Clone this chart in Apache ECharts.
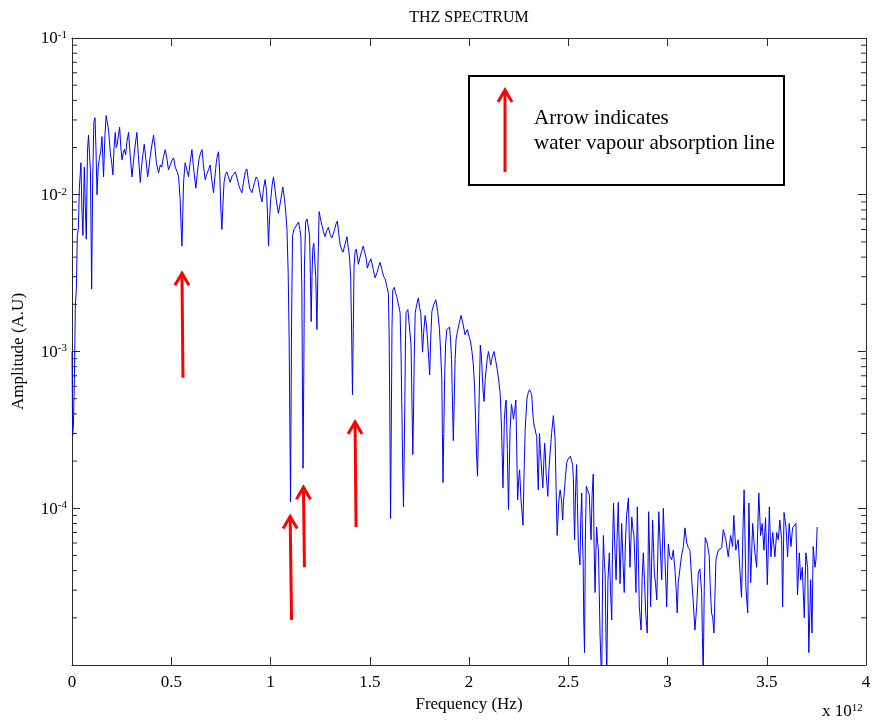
<!DOCTYPE html>
<html>
<head>
<meta charset="utf-8">
<script src="https://cdn.jsdelivr.net/npm/echarts@6/dist/echarts.min.js"></script>
<style>
  html, body { margin: 0; padding: 0; background: #ffffff; }
  #chart { width: 872px; height: 720px; }
</style>
</head>
<body>
<div id="chart"></div>
<script>
// Spectrum samples as [frequency (THz), amplitude (A.U)], split by frequency band.
const lowBand = [
  [0.000, 1.0e-3], [0.003, 2.9e-4], [0.007, 3.4e-4], [0.012, 6.6e-4], [0.017, 2.0e-3],
  [0.022, 2.5e-3], [0.027, 5.6e-3], [0.032, 6.0e-3], [0.037, 1.1e-2], [0.045, 1.6e-2],
  [0.050, 8.0e-3], [0.055, 5.5e-3], [0.062, 1.5e-2], [0.067, 8.5e-3], [0.072, 5.2e-3],
  [0.078, 1.9e-2], [0.083, 2.4e-2], [0.088, 2.45e-2], [0.093, 1.4e-2], [0.099, 2.5e-3],
  [0.104, 1.2e-2], [0.110, 2.9e-2], [0.116, 3.1e-2], [0.121, 1.9e-2], [0.126, 1.0e-2],
  [0.132, 1.5e-2], [0.138, 1.7e-2], [0.145, 1.9e-2], [0.151, 2.35e-2], [0.159, 1.3e-2],
  [0.166, 2.4e-2], [0.172, 3.2e-2], [0.178, 3.25e-2], [0.184, 2.6e-2], [0.193, 1.85e-2],
  [0.200, 1.6e-2], [0.206, 1.34e-2], [0.212, 2.0e-2], [0.218, 2.5e-2], [0.223, 2.0e-2],
  [0.228, 2.1e-2], [0.234, 2.4e-2], [0.240, 2.7e-2], [0.246, 2.0e-2], [0.252, 1.67e-2],
  [0.258, 1.85e-2], [0.264, 1.95e-2], [0.270, 1.8e-2], [0.277, 2.2e-2], [0.285, 2.5e-2],
  [0.293, 1.8e-2], [0.302, 1.3e-2], [0.309, 1.6e-2], [0.315, 1.9e-2], [0.321, 2.2e-2],
  [0.327, 2.5e-2], [0.334, 1.8e-2], [0.344, 1.2e-2], [0.350, 1.5e-2], [0.357, 1.8e-2],
  [0.364, 2.1e-2], [0.372, 1.7e-2], [0.381, 1.3e-2], [0.388, 1.5e-2], [0.394, 1.75e-2],
  [0.403, 2.1e-2], [0.411, 2.4e-2], [0.418, 2.0e-2], [0.425, 1.6e-2], [0.436, 1.38e-2],
  [0.445, 1.55e-2], [0.452, 1.5e-2], [0.461, 1.75e-2], [0.470, 1.94e-2], [0.478, 1.7e-2],
  [0.486, 1.44e-2], [0.495, 1.55e-2], [0.503, 1.65e-2], [0.512, 1.72e-2]
];

const plateauBand = [
  [0.520, 1.5e-2], [0.530, 1.4e-2], [0.537, 1.3e-2], [0.545, 9.3e-3], [0.550, 6.0e-3],
  [0.554, 4.7e-3], [0.558, 7.5e-3], [0.562, 1.2e-2], [0.570, 1.6e-2], [0.578, 1.45e-2],
  [0.587, 1.3e-2], [0.595, 1.6e-2], [0.604, 1.94e-2], [0.612, 1.5e-2], [0.624, 1.1e-2],
  [0.632, 1.4e-2], [0.640, 1.7e-2], [0.648, 1.85e-2], [0.655, 1.94e-2], [0.663, 1.5e-2],
  [0.671, 1.25e-2], [0.679, 1.35e-2], [0.688, 1.45e-2], [0.696, 1.55e-2], [0.704, 1.25e-2],
  [0.713, 1.03e-2], [0.720, 1.3e-2], [0.727, 1.6e-2], [0.733, 1.8e-2], [0.738, 1.88e-2],
  [0.744, 1.4e-2], [0.750, 8.0e-3], [0.755, 6.0e-3], [0.760, 8.5e-3], [0.766, 1.2e-2],
  [0.773, 1.35e-2], [0.780, 1.4e-2], [0.788, 1.3e-2], [0.797, 1.2e-2], [0.805, 1.3e-2],
  [0.814, 1.35e-2], [0.822, 1.4e-2], [0.830, 1.3e-2], [0.840, 1.15e-2], [0.848, 1.08e-2],
  [0.856, 1.03e-2], [0.864, 1.2e-2], [0.873, 1.4e-2], [0.881, 1.46e-2], [0.888, 1.25e-2],
  [0.895, 1.1e-2], [0.906, 1.03e-2], [0.912, 1.1e-2], [0.920, 1.2e-2], [0.928, 1.3e-2],
  [0.936, 1.25e-2], [0.943, 1.1e-2], [0.950, 9.8e-3], [0.957, 9.0e-3], [0.965, 1.1e-2],
  [0.973, 1.25e-2], [0.980, 1.05e-2], [0.985, 7.5e-3], [0.990, 4.7e-3], [0.994, 6.5e-3],
  [1.000, 9.0e-3], [1.008, 1.15e-2], [1.015, 1.3e-2], [1.022, 1.1e-2], [1.030, 9.0e-3],
  [1.040, 7.6e-3], [1.050, 9.0e-3], [1.062, 1.12e-2], [1.070, 9.5e-3], [1.076, 8.0e-3],
  [1.083, 6.0e-3], [1.089, 3.2e-3], [1.094, 1.2e-3], [1.098, 3.0e-4], [1.101, 1.1e-4]
];

const waterBandA = [
  [1.106, 1.5e-3], [1.111, 5.5e-3], [1.118, 6.0e-3], [1.124, 6.0e-3], [1.132, 6.4e-3],
  [1.141, 6.7e-3], [1.148, 6.0e-3], [1.153, 5.4e-3], [1.158, 2.5e-3], [1.161, 6.0e-4],
  [1.164, 1.8e-4], [1.168, 8.0e-4], [1.171, 3.5e-3], [1.177, 6.7e-3], [1.184, 7.0e-3],
  [1.191, 7.1e-3], [1.197, 5.5e-3], [1.201, 3.0e-3], [1.205, 1.55e-3], [1.209, 3.0e-3],
  [1.213, 4.5e-3], [1.218, 4.9e-3], [1.222, 4.8e-3], [1.228, 3.0e-3], [1.234, 1.38e-3],
  [1.239, 3.5e-3], [1.245, 7.8e-3], [1.252, 7.0e-3], [1.259, 6.4e-3], [1.267, 5.8e-3],
  [1.275, 5.4e-3], [1.283, 5.9e-3], [1.292, 6.2e-3], [1.300, 5.6e-3], [1.309, 5.3e-3],
  [1.316, 5.6e-3], [1.323, 6.0e-3], [1.330, 6.5e-3], [1.337, 6.8e-3], [1.344, 5.6e-3],
  [1.351, 4.8e-3], [1.358, 4.5e-3], [1.365, 4.3e-3], [1.375, 4.8e-3], [1.385, 5.4e-3],
  [1.392, 4.6e-3], [1.398, 4.0e-3], [1.404, 3.0e-3], [1.408, 1.5e-3], [1.413, 5.3e-4],
  [1.417, 1.4e-3], [1.421, 3.5e-3], [1.426, 4.3e-3], [1.432, 4.5e-3], [1.438, 4.0e-3],
  [1.443, 3.6e-3], [1.451, 4.0e-3], [1.460, 4.4e-3], [1.467, 4.7e-3], [1.473, 4.8e-3],
  [1.481, 4.0e-3], [1.488, 3.4e-3], [1.497, 3.7e-3], [1.506, 3.9e-3], [1.516, 3.4e-3],
  [1.527, 2.95e-3], [1.537, 3.2e-3], [1.545, 3.5e-3], [1.552, 3.7e-3], [1.562, 3.3e-3],
  [1.570, 3.0e-3], [1.578, 2.9e-3], [1.586, 2.6e-3], [1.594, 2.35e-3], [1.598, 1.2e-3],
  [1.601, 4.0e-4], [1.605, 8.6e-5]
];

const waterBandB = [
  [1.609, 4.0e-4], [1.612, 1.4e-3], [1.616, 2.48e-3], [1.624, 2.57e-3], [1.630, 2.35e-3],
  [1.636, 2.25e-3], [1.645, 2.3e-3], [1.653, 1.77e-3], [1.658, 9.0e-4], [1.662, 4.1e-4],
  [1.666, 1.8e-4], [1.670, 1.02e-4], [1.674, 2.5e-4], [1.677, 5.0e-4], [1.680, 1.2e-3],
  [1.683, 1.77e-3], [1.692, 1.85e-3], [1.700, 1.8e-3], [1.708, 1.1e-3], [1.713, 4.5e-4],
  [1.717, 2.2e-4], [1.721, 4.5e-4], [1.724, 8.9e-4], [1.729, 1.77e-3], [1.737, 2.0e-3],
  [1.745, 2.2e-3], [1.751, 1.9e-3], [1.757, 1.77e-3], [1.762, 1.3e-3], [1.766, 9.9e-4],
  [1.771, 1.3e-3], [1.779, 1.7e-3], [1.785, 1.5e-3], [1.791, 1.2e-3], [1.797, 9.0e-4],
  [1.802, 7.1e-4], [1.807, 1.2e-3], [1.813, 1.8e-3], [1.823, 2.0e-3], [1.833, 2.14e-3],
  [1.842, 1.8e-3], [1.851, 1.4e-3], [1.857, 1.0e-3], [1.863, 6.6e-4], [1.866, 3.0e-4],
  [1.869, 1.46e-4], [1.873, 3.0e-4], [1.877, 6.6e-4], [1.882, 1.1e-3], [1.888, 1.38e-3],
  [1.895, 1.4e-3], [1.902, 1.43e-3], [1.907, 1.2e-3], [1.912, 8.9e-4], [1.917, 4.5e-4],
  [1.921, 2.7e-4], [1.925, 4.5e-4], [1.930, 8.9e-4], [1.935, 1.2e-3], [1.940, 1.3e-3],
  [1.950, 1.5e-3], [1.960, 1.7e-3], [1.970, 1.5e-3], [1.980, 1.28e-3], [1.986, 1.3e-3],
  [1.992, 1.38e-3], [2.000, 1.25e-3], [2.008, 1.15e-3], [2.015, 1.0e-3], [2.022, 8.2e-4],
  [2.028, 6.0e-4], [2.033, 3.7e-4], [2.038, 2.2e-4], [2.043, 1.6e-4], [2.047, 3.0e-4],
  [2.051, 4.9e-4], [2.057, 1.1e-3], [2.062, 9.5e-4], [2.066, 7.6e-4], [2.071, 5.6e-4],
  [2.076, 4.8e-4], [2.081, 6.5e-4], [2.086, 7.6e-4], [2.092, 9.0e-4], [2.098, 1.0e-3],
  [2.104, 9.0e-4], [2.109, 8.2e-4], [2.117, 9.2e-4], [2.126, 1.0e-3], [2.134, 8.8e-4],
  [2.143, 7.6e-4], [2.150, 6.5e-4], [2.157, 5.4e-4], [2.161, 4.0e-4], [2.164, 3.2e-4],
  [2.168, 2.0e-4], [2.171, 1.35e-4], [2.175, 2.3e-4], [2.178, 3.7e-4], [2.183, 4.5e-4],
  [2.187, 4.9e-4], [2.190, 3.5e-4], [2.193, 2.4e-4], [2.196, 1.5e-4], [2.199, 9.8e-5],
  [2.203, 1.8e-4], [2.207, 3.2e-4], [2.214, 4.6e-4], [2.219, 4.2e-4], [2.224, 3.7e-4],
  [2.230, 4.2e-4], [2.236, 4.9e-4], [2.240, 2.6e-4], [2.245, 1.13e-4], [2.250, 1.5e-4],
  [2.255, 1.76e-4], [2.262, 1.13e-4], [2.267, 9.5e-5], [2.272, 7.8e-5], [2.277, 1.6e-4],
  [2.283, 3.2e-4], [2.292, 5.0e-4], [2.299, 5.5e-4], [2.305, 5.7e-4], [2.311, 5.5e-4],
  [2.316, 5.3e-4], [2.320, 4.3e-4], [2.324, 3.7e-4], [2.329, 3.3e-4], [2.333, 3.2e-4],
  [2.337, 3.0e-4], [2.341, 2.9e-4], [2.345, 1.8e-4], [2.349, 1.31e-4], [2.352, 2.0e-4],
  [2.355, 3.0e-4], [2.359, 2.4e-4], [2.363, 2.0e-4], [2.368, 1.6e-4], [2.372, 1.35e-4],
  [2.377, 2.0e-4], [2.381, 2.6e-4], [2.385, 2.2e-4], [2.388, 1.7e-4], [2.393, 1.4e-4],
  [2.397, 1.19e-4], [2.402, 1.7e-4], [2.408, 2.2e-4], [2.416, 3.0e-4], [2.425, 3.9e-4],
  [2.430, 3.2e-4], [2.434, 2.7e-4], [2.439, 1.3e-4], [2.444, 6.7e-5], [2.448, 8.5e-5],
  [2.451, 1.05e-4], [2.455, 1.2e-4], [2.459, 1.31e-4], [2.463, 1.2e-4], [2.466, 1.13e-4],
  [2.469, 9.5e-5], [2.472, 8.4e-5], [2.476, 1.1e-4], [2.481, 1.31e-4], [2.486, 1.6e-4],
  [2.492, 1.95e-4], [2.498, 2.05e-4], [2.504, 2.1e-4], [2.511, 2.15e-4], [2.517, 2.15e-4]
];

const noiseFloorBand = [
  [2.522, 1.9e-4], [2.526, 1.52e-4], [2.529, 9.0e-5], [2.532, 6.3e-5], [2.537, 1.3e-4],
  [2.542, 1.9e-4], [2.546, 1.1e-4], [2.551, 5.7e-5], [2.555, 5.0e-5], [2.559, 4.35e-5],
  [2.563, 8.5e-5], [2.568, 1.25e-4], [2.572, 6.0e-5], [2.575, 4.7e-5], [2.578, 2.0e-5],
  [2.582, 1.2e-5], [2.586, 6.0e-5], [2.591, 1.38e-4], [2.598, 1.3e-4], [2.606, 1.22e-4],
  [2.611, 8.0e-5], [2.615, 6.3e-5], [2.620, 1.2e-4], [2.626, 1.65e-4], [2.630, 6.0e-5],
  [2.635, 2.9e-5], [2.639, 5.0e-5], [2.643, 7.6e-5], [2.648, 6.0e-5], [2.652, 5.4e-5],
  [2.656, 3.0e-5], [2.660, 1.6e-5], [2.665, 1.0e-5], [2.669, 9.0e-6], [2.673, 3.5e-5],
  [2.677, 6.7e-5], [2.682, 4.5e-5], [2.686, 3.8e-5], [2.690, 1.5e-5], [2.694, 8.8e-6],
  [2.700, 3.5e-5], [2.707, 5.2e-5], [2.713, 3.0e-5], [2.719, 1.94e-5], [2.723, 5.5e-5],
  [2.728, 1.08e-4], [2.734, 6.0e-5], [2.741, 3.5e-5], [2.746, 6.5e-5], [2.752, 1.09e-4],
  [2.757, 5.5e-5], [2.761, 3.3e-5], [2.769, 8.0e-5], [2.776, 4.5e-5], [2.782, 2.9e-5],
  [2.788, 6.0e-5], [2.794, 9.0e-5], [2.803, 1.16e-4], [2.811, 4.2e-5], [2.820, 8.8e-5],
  [2.825, 7.5e-5], [2.831, 6.7e-5], [2.836, 4.5e-5], [2.841, 2.9e-5], [2.848, 1.02e-4],
  [2.853, 5.0e-5], [2.858, 2.35e-5], [2.867, 1.67e-5], [2.872, 3.5e-5], [2.878, 5.2e-5],
  [2.884, 3.5e-5], [2.890, 2.15e-5], [2.898, 1.6e-5], [2.905, 9.5e-5], [2.910, 5.0e-5],
  [2.915, 2.35e-5], [2.920, 4.5e-5], [2.925, 8.4e-5], [2.934, 3.85e-5], [2.940, 3.3e-5],
  [2.946, 2.6e-5], [2.956, 9.5e-5], [2.962, 6.3e-5], [2.971, 3.5e-5], [2.979, 1.0e-4],
  [2.987, 4.9e-5], [2.996, 2.35e-5], [3.004, 5.9e-5], [3.012, 4.9e-5], [3.021, 4.7e-5],
  [3.029, 5.4e-5], [3.038, 4.0e-5], [3.044, 3.0e-5], [3.049, 2.15e-5], [3.054, 3.35e-5],
  [3.063, 3.35e-5], [3.071, 5.0e-5], [3.080, 5.7e-5], [3.088, 7.5e-5], [3.097, 6.0e-5],
  [3.105, 5.6e-5], [3.113, 5.4e-5], [3.122, 3.5e-5], [3.130, 2.5e-5], [3.138, 1.67e-5],
  [3.147, 2.35e-5], [3.155, 3.85e-5], [3.163, 4.1e-5], [3.172, 2.9e-5], [3.176, 1.5e-5],
  [3.180, 8.5e-6], [3.185, 3.0e-5], [3.190, 6.5e-5], [3.200, 6.0e-5], [3.210, 5.0e-5],
  [3.216, 3.0e-5], [3.222, 2.15e-5], [3.228, 2.0e-5], [3.234, 1.6e-5], [3.244, 4.7e-5],
  [3.256, 5.4e-5], [3.264, 5.3e-5], [3.273, 5.6e-5], [3.281, 7.3e-5], [3.294, 6.3e-5],
  [3.306, 4.9e-5], [3.318, 6.7e-5], [3.328, 5.7e-5], [3.334, 9.0e-5], [3.344, 5.4e-5],
  [3.356, 6.3e-5], [3.365, 4.0e-5], [3.373, 2.7e-5], [3.381, 8.0e-5], [3.386, 1.31e-4],
  [3.395, 3.1e-5], [3.404, 2.15e-5], [3.410, 1.08e-4], [3.419, 3.35e-5], [3.429, 8.0e-5],
  [3.439, 5.4e-5], [3.449, 4.2e-5], [3.460, 1.25e-4], [3.469, 6.7e-5], [3.477, 8.0e-5],
  [3.486, 5.4e-5], [3.494, 8.7e-5], [3.503, 3.25e-5], [3.513, 1.02e-4], [3.521, 4.9e-5],
  [3.530, 7.0e-5], [3.541, 4.9e-5], [3.550, 7.0e-5], [3.558, 6.3e-5], [3.566, 8.4e-5],
  [3.575, 6.3e-5], [3.580, 2.35e-5], [3.587, 9.4e-5], [3.597, 7.6e-5], [3.605, 4.9e-5],
  [3.613, 8.0e-5], [3.622, 5.7e-5], [3.630, 7.5e-5], [3.638, 7.6e-5], [3.647, 8.0e-5],
  [3.655, 2.8e-5], [3.664, 5.2e-5], [3.671, 3.5e-5], [3.679, 4.2e-5], [3.689, 2.0e-5],
  [3.697, 5.2e-5], [3.706, 4.2e-5], [3.712, 1.2e-5], [3.721, 3.5e-5], [3.728, 1.6e-5],
  [3.734, 5.7e-5], [3.743, 4.2e-5], [3.748, 4.7e-5], [3.754, 7.6e-5]
];

// Water vapour absorption markers: [tip THz, tip amplitude, tail THz, tail amplitude]
const absorptionArrows = [
  [0.554, 3.2e-3, 0.559, 6.8e-4],
  [1.099, 9.0e-5, 1.106, 1.94e-5],
  [1.166, 1.38e-4, 1.171, 4.2e-5],
  [1.426, 3.6e-4, 1.431, 7.6e-5]
];

// Axis extents and tick layout
const xRange = [0, 4];
const xTickStep = 0.5;
const yDecades = [1e-5, 1e-4, 1e-3, 1e-2, 1e-1];
const minorMultipliers = [2, 3, 4, 5, 6, 7, 8, 9];

// Texts
const titleText = 'THZ SPECTRUM';
const xName = 'Frequency (Hz)';
const yName = 'Amplitude (A.U)';
const xExponent = '12';
const legendLines = ['Arrow indicates', 'water vapour absorption line'];

const FONT = '"Liberation Serif", "Times New Roman", serif';
const AXIS_COLOR = '#2a2a2a';

const spectrum = [].concat(lowBand, plateauBand, waterBandA, waterBandB, noiseFloorBand);

const minorTicks = [];
for (let i = 0; i < yDecades.length - 1; i++) {
  minorMultipliers.forEach(m => minorTicks.push([xRange[0], m * yDecades[i]]));
}

const chart = echarts.init(document.getElementById('chart'), null, { renderer: 'canvas' });

const logLabel = v => {
  const e = Math.round(Math.log10(v));
  if (v <= yDecades[0] * 1.0001) return '';
  return '{b|10}{s|' + e + '}';
};

// "10" with a raised exponent
const powerRich = {
  b: { fontFamily: FONT, fontSize: 17, color: '#000', fill: '#000', lineHeight: 17, padding: [6, 0, 4, 0] },
  s: { fontFamily: FONT, fontSize: 11, color: '#000', fill: '#000', lineHeight: 11, verticalAlign: 'top' }
};

const tickStyle = { show: true, inside: true, length: 8, lineStyle: { color: AXIS_COLOR, width: 1 } };

chart.setOption({
  animation: false,
  backgroundColor: '#ffffff',
  grid: { left: 72, right: 6, top: 38, bottom: 55, containLabel: false, outerBoundsMode: 'none' },
  xAxis: [
    {
      type: 'value', position: 'bottom', min: xRange[0], max: xRange[1], interval: xTickStep,
      name: xName, nameLocation: 'middle', nameGap: 31,
      nameTextStyle: { fontFamily: FONT, fontSize: 17, color: '#000' },
      axisLine: { show: true, onZero: false, lineStyle: { color: AXIS_COLOR, width: 1 } },
      axisTick: tickStyle,
      axisLabel: { fontFamily: FONT, fontSize: 17, color: '#000', margin: 9 },
      splitLine: { show: false }
    },
    {
      type: 'value', position: 'top', min: xRange[0], max: xRange[1], interval: xTickStep,
      axisLine: { show: true, onZero: false, lineStyle: { color: AXIS_COLOR, width: 1 } },
      axisTick: tickStyle,
      axisLabel: { show: false },
      splitLine: { show: false }
    }
  ],
  yAxis: [
    {
      type: 'log', logBase: 10, position: 'left', min: yDecades[0], max: yDecades[yDecades.length - 1],
      name: yName, nameLocation: 'middle', nameGap: 45,
      nameTextStyle: { fontFamily: FONT, fontSize: 17, color: '#000' },
      axisLine: { show: true, onZero: false, lineStyle: { color: AXIS_COLOR, width: 1 } },
      axisTick: tickStyle,
      axisLabel: { formatter: logLabel, rich: powerRich, margin: 5 },
      splitLine: { show: false }
    },
    {
      type: 'log', logBase: 10, position: 'right', min: yDecades[0], max: yDecades[yDecades.length - 1],
      axisLine: { show: true, onZero: false, lineStyle: { color: AXIS_COLOR, width: 1 } },
      axisTick: tickStyle,
      axisLabel: { show: false },
      splitLine: { show: false }
    }
  ],
  series: [
    {
      type: 'line',
      data: spectrum,
      showSymbol: false,
      symbol: 'none',
      clip: true,
      lineStyle: { color: '#0000ff', width: 1 },
      z: 3
    },
    {
      // minor log ticks on both vertical borders
      type: 'custom',
      data: minorTicks,
      encode: { x: 0, y: 1 },
      silent: true,
      z: 4,
      renderItem: (params, api) => {
        const v = api.value(1);
        const l = api.coord([xRange[0], v]);
        const r = api.coord([xRange[1], v]);
        return {
          type: 'group',
          children: [
            { type: 'line', shape: { x1: l[0], y1: l[1], x2: l[0] + 5, y2: l[1] }, style: { stroke: AXIS_COLOR, lineWidth: 1 } },
            { type: 'line', shape: { x1: r[0] - 5, y1: r[1], x2: r[0], y2: r[1] }, style: { stroke: AXIS_COLOR, lineWidth: 1 } }
          ]
        };
      }
    },
    {
      // red arrows pointing at absorption lines
      type: 'custom',
      data: absorptionArrows,
      encode: { x: [0, 2], y: [1, 3] },
      silent: true,
      z: 5,
      renderItem: (params, api) => {
        const tip = api.coord([api.value(0), api.value(1)]);
        const tail = api.coord([api.value(2), api.value(3)]);
        return {
          type: 'group',
          children: [
            { type: 'line', shape: { x1: tail[0], y1: tail[1], x2: tip[0], y2: tip[1] + 1 }, style: { stroke: '#ff0000', lineWidth: 3 } },
            { type: 'polyline', shape: { points: [[tip[0] - 7, tip[1] + 13], [tip[0], tip[1] + 1], [tip[0] + 7, tip[1] + 13]] },
              style: { stroke: '#ff0000', lineWidth: 3, fill: 'none' } }
          ]
        };
      }
    }
  ],
  graphic: [
    {
      type: 'text', x: 469, y: 18, z: 10,
      style: { text: titleText, fontFamily: FONT, fontSize: 16, fill: '#000', align: 'center', verticalAlign: 'middle' }
    },
    {
      type: 'text', x: 822, y: 711, z: 10,
      style: {
        text: '{b|x 10}{s|' + xExponent + '}', align: 'left', verticalAlign: 'middle',
        rich: powerRich
      }
    },
    {
      type: 'rect', z: 20,
      shape: { x: 469, y: 76, width: 315, height: 109 },
      style: { fill: '#ffffff', stroke: '#000000', lineWidth: 2 }
    },
    {
      type: 'line', z: 21,
      shape: { x1: 505, y1: 172, x2: 505, y2: 90 },
      style: { stroke: '#ff0000', lineWidth: 3 }
    },
    {
      type: 'polyline', z: 21,
      shape: { points: [[498, 102], [505, 90], [512, 102]] },
      style: { stroke: '#ff0000', lineWidth: 3, fill: 'none' }
    },
    {
      type: 'text', x: 534, y: 118, z: 21,
      style: { text: legendLines[0], fontFamily: FONT, fontSize: 21, fill: '#000', align: 'left', verticalAlign: 'middle' }
    },
    {
      type: 'text', x: 534, y: 143, z: 21,
      style: { text: legendLines[1], fontFamily: FONT, fontSize: 21, fill: '#000', align: 'left', verticalAlign: 'middle' }
    }
  ]
});
</script>
</body>
</html>
